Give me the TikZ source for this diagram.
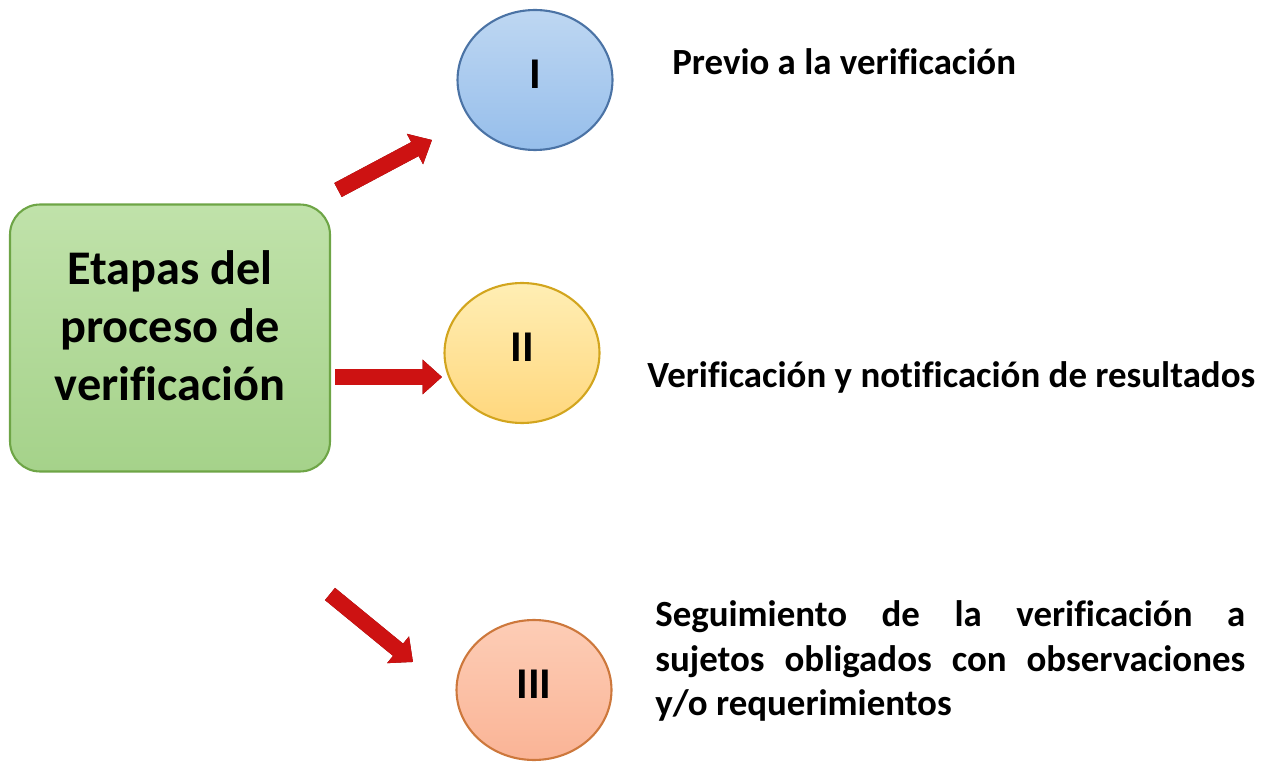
\documentclass[tikz,border=0pt]{standalone}
\usepackage{fontspec}
\setmainfont[Ligatures=NoCommon]{Carlito}
\usetikzlibrary{shapes.geometric,arrows.meta}
\definecolor{verdeA}{RGB}{192,226,170}
\definecolor{verdeB}{RGB}{165,210,138}
\definecolor{verdeC}{RGB}{110,165,70}
\definecolor{azulA}{RGB}{190,215,242}
\definecolor{azulB}{RGB}{150,190,235}
\definecolor{azulC}{RGB}{75,115,165}
\definecolor{amarA}{RGB}{255,238,180}
\definecolor{amarB}{RGB}{255,215,125}
\definecolor{amarC}{RGB}{210,165,30}
\definecolor{salmA}{RGB}{253,205,182}
\definecolor{salmB}{RGB}{250,180,150}
\definecolor{salmC}{RGB}{205,120,60}
\definecolor{rojoA}{RGB}{205,18,18}
\definecolor{rojoB}{RGB}{120,0,0}
\tikzset{
  etapa/.style={ellipse, minimum width=3.1cm, minimum height=2.8cm, line width=1.2pt,
    text depth=7pt, font=\fontsize{25}{30}\selectfont\bfseries},
  flecha/.style={line width=9pt, draw=rojoA, -{Triangle[length=11pt,width=19pt]}},
  sombra/.style={line width=9pt, draw=rojoB, -{Triangle[length=11pt,width=19pt]}, shift={(2,2)}},
  texto/.style={font=\fontsize{21}{25.5}\selectfont\bfseries, inner sep=0pt}
}
\begin{document}
\begin{tikzpicture}[x=0.02cm,y=-0.02cm]
    \useasboundingbox (0,0) rectangle (1285,763);
    \node[draw=verdeC, line width=1.2pt, rounded corners=0.6cm, minimum width=6.4cm, minimum height=5.34cm,
      top color=verdeA, bottom color=verdeB] (etapas) at (170,338) {};
    \node[align=center, font=\fontsize{27.5}{33}\selectfont\bfseries] (etapastxt) at (170,326)
      {Etapas del\\proceso de\\verificación};
    \node[etapa, draw=azulC, top color=azulA, bottom color=azulB] (uno) at (535,80) {I};
    \node[etapa, draw=amarC, top color=amarA, bottom color=amarB] (dos) at (522,353) {II};
    \node[etapa, draw=salmC, top color=salmA, bottom color=salmB] (tres) at (534,690) {III};
    \coordinate (a1) at (338,190); \coordinate (b1) at (432,140);
    \coordinate (a2) at (335,377); \coordinate (b2) at (442,377);
    \coordinate (a3) at (330,594); \coordinate (b3) at (413,662);
    \foreach \a/\b in {a1/b1,a2/b2,a3/b3} {
        \draw[sombra] (\a) -- (\b);
        \draw[flecha] (\a) -- (\b);
    }
    \node[texto, anchor=west] (previo) at (672,62) {Previo a la verificación};
    \node[texto, anchor=west] (verif) at (647,377) {Verificación y notificación de resultados};
    \node[texto, anchor=north west, text width=11.8cm, align=justify] (seguim) at (655,600)
      {Seguimiento de la verificación a\linebreak sujetos obligados con observaciones\linebreak y/o requerimientos};
\end{tikzpicture}
\end{document}
